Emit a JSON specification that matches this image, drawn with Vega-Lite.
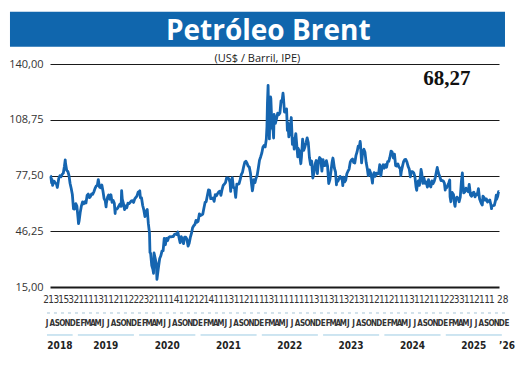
{
  "$schema": "https://vega.github.io/schema/vega-lite/v6.json",
  "width": 449,
  "height": 223,
  "autosize": {"type": "none"},
  "padding": {"left": 50, "top": 64, "right": 21, "bottom": 84},
  "background": "white",
  "config": {"view": {"stroke": null}, "font": "Open Sans"},
  "datasets": {
    "textos": [
      {"k": "titulo", "t": "Petróleo Brent"},
      {"k": "sub", "t": "(US$ / Barril, IPE)"},
      {"k": "ult", "t": "68,27"}
    ],
    "brent": [
      {"d":"2018-07-02","v":77.3},{"d":"2018-07-06","v":77.1},{"d":"2018-07-11","v":73.4},{"d":"2018-07-13","v":75.3},{"d":"2018-07-17","v":72.0},{"d":"2018-07-20","v":73.1},{"d":"2018-07-27","v":74.3},
      {"d":"2018-08-03","v":73.2},{"d":"2018-08-10","v":72.8},{"d":"2018-08-15","v":70.8},{"d":"2018-08-17","v":71.8},{"d":"2018-08-24","v":75.8},{"d":"2018-08-31","v":77.4},
      {"d":"2018-09-07","v":76.8},{"d":"2018-09-14","v":78.1},{"d":"2018-09-21","v":78.8},{"d":"2018-09-28","v":82.7},{"d":"2018-10-03","v":86.3},{"d":"2018-10-05","v":84.2},
      {"d":"2018-10-12","v":80.4},{"d":"2018-10-19","v":79.8},{"d":"2018-10-26","v":77.6},{"d":"2018-11-02","v":73.0},{"d":"2018-11-09","v":70.2},{"d":"2018-11-16","v":66.8},
      {"d":"2018-11-23","v":58.8},{"d":"2018-11-30","v":58.7},{"d":"2018-12-07","v":61.7},{"d":"2018-12-14","v":60.3},{"d":"2018-12-21","v":53.8},{"d":"2018-12-24","v":50.5},{"d":"2018-12-28","v":52.2},
      {"d":"2019-01-04","v":57.1},{"d":"2019-01-11","v":60.5},{"d":"2019-01-18","v":62.7},{"d":"2019-01-25","v":61.6},{"d":"2019-02-01","v":62.8},{"d":"2019-02-08","v":62.1},
      {"d":"2019-02-15","v":66.3},{"d":"2019-02-22","v":67.1},{"d":"2019-03-01","v":65.1},{"d":"2019-03-08","v":65.7},{"d":"2019-03-15","v":67.2},{"d":"2019-03-22","v":67.0},
      {"d":"2019-03-29","v":68.4},{"d":"2019-04-05","v":70.3},{"d":"2019-04-12","v":71.6},{"d":"2019-04-19","v":71.9},{"d":"2019-04-25","v":75.2},{"d":"2019-05-03","v":70.9},
      {"d":"2019-05-10","v":70.6},{"d":"2019-05-17","v":72.2},{"d":"2019-05-24","v":68.7},{"d":"2019-05-31","v":64.5},{"d":"2019-06-07","v":63.3},{"d":"2019-06-12","v":59.9},
      {"d":"2019-06-14","v":62.0},{"d":"2019-06-21","v":65.2},{"d":"2019-06-28","v":66.6},{"d":"2019-07-05","v":64.2},{"d":"2019-07-12","v":66.7},{"d":"2019-07-19","v":62.5},
      {"d":"2019-07-26","v":63.5},{"d":"2019-08-02","v":61.9},{"d":"2019-08-07","v":56.2},{"d":"2019-08-09","v":58.5},{"d":"2019-08-16","v":58.6},{"d":"2019-08-23","v":59.3},
      {"d":"2019-08-30","v":60.4},{"d":"2019-09-06","v":61.5},{"d":"2019-09-13","v":60.2},{"d":"2019-09-16","v":69.0},{"d":"2019-09-20","v":64.3},{"d":"2019-09-27","v":61.9},
      {"d":"2019-10-04","v":58.4},{"d":"2019-10-11","v":60.5},{"d":"2019-10-18","v":59.4},{"d":"2019-10-25","v":62.0},{"d":"2019-11-01","v":61.7},{"d":"2019-11-08","v":62.5},
      {"d":"2019-11-15","v":63.3},{"d":"2019-11-22","v":63.4},{"d":"2019-11-29","v":62.4},{"d":"2019-12-06","v":64.4},{"d":"2019-12-13","v":65.2},{"d":"2019-12-20","v":66.1},{"d":"2019-12-27","v":68.2},
      {"d":"2020-01-03","v":68.6},{"d":"2020-01-06","v":68.9},{"d":"2020-01-10","v":65.0},{"d":"2020-01-17","v":64.9},{"d":"2020-01-24","v":60.7},{"d":"2020-01-31","v":58.2},
      {"d":"2020-02-07","v":54.5},{"d":"2020-02-14","v":57.3},{"d":"2020-02-21","v":58.5},{"d":"2020-02-28","v":50.5},{"d":"2020-03-06","v":45.3},{"d":"2020-03-09","v":34.4},
      {"d":"2020-03-13","v":33.9},{"d":"2020-03-20","v":27.0},{"d":"2020-03-27","v":24.9},{"d":"2020-03-31","v":22.7},{"d":"2020-04-03","v":34.1},{"d":"2020-04-09","v":31.5},
      {"d":"2020-04-17","v":28.1},{"d":"2020-04-21","v":19.3},{"d":"2020-04-24","v":21.4},{"d":"2020-05-01","v":26.4},{"d":"2020-05-08","v":31.0},{"d":"2020-05-15","v":32.5},
      {"d":"2020-05-22","v":35.1},{"d":"2020-05-29","v":35.3},{"d":"2020-06-05","v":42.3},{"d":"2020-06-12","v":38.7},{"d":"2020-06-19","v":42.2},{"d":"2020-06-26","v":41.0},
      {"d":"2020-07-03","v":42.8},{"d":"2020-07-10","v":43.2},{"d":"2020-07-17","v":43.1},{"d":"2020-07-24","v":43.3},{"d":"2020-07-31","v":43.3},{"d":"2020-08-07","v":44.4},
      {"d":"2020-08-14","v":44.8},{"d":"2020-08-21","v":44.4},{"d":"2020-08-28","v":45.8},{"d":"2020-09-04","v":42.7},{"d":"2020-09-11","v":39.8},{"d":"2020-09-18","v":43.2},
      {"d":"2020-09-25","v":41.9},{"d":"2020-10-02","v":39.3},{"d":"2020-10-09","v":42.9},{"d":"2020-10-16","v":42.9},{"d":"2020-10-23","v":41.8},{"d":"2020-10-30","v":37.9},
      {"d":"2020-11-06","v":39.5},{"d":"2020-11-13","v":42.8},{"d":"2020-11-20","v":45.0},{"d":"2020-11-27","v":48.2},{"d":"2020-12-04","v":49.3},{"d":"2020-12-11","v":50.0},
      {"d":"2020-12-18","v":52.3},{"d":"2020-12-24","v":51.3},{"d":"2020-12-31","v":51.8},
      {"d":"2021-01-08","v":56.0},{"d":"2021-01-15","v":55.1},{"d":"2021-01-22","v":55.4},{"d":"2021-01-29","v":55.9},{"d":"2021-02-05","v":59.3},{"d":"2021-02-12","v":62.4},
      {"d":"2021-02-19","v":62.9},{"d":"2021-02-26","v":66.1},{"d":"2021-03-05","v":69.4},{"d":"2021-03-12","v":69.2},{"d":"2021-03-19","v":64.5},{"d":"2021-03-26","v":64.6},
      {"d":"2021-04-02","v":64.9},{"d":"2021-04-09","v":63.0},{"d":"2021-04-16","v":66.8},{"d":"2021-04-23","v":66.1},{"d":"2021-04-30","v":67.3},{"d":"2021-05-07","v":68.3},
      {"d":"2021-05-14","v":68.7},{"d":"2021-05-21","v":66.4},{"d":"2021-05-28","v":69.6},{"d":"2021-06-04","v":71.9},{"d":"2021-06-11","v":72.7},{"d":"2021-06-18","v":73.5},
      {"d":"2021-06-25","v":76.2},{"d":"2021-07-02","v":76.2},{"d":"2021-07-09","v":75.6},{"d":"2021-07-16","v":73.6},{"d":"2021-07-20","v":68.6},{"d":"2021-07-23","v":74.1},
      {"d":"2021-07-30","v":76.3},{"d":"2021-08-06","v":70.7},{"d":"2021-08-13","v":70.6},{"d":"2021-08-20","v":65.2},{"d":"2021-08-27","v":72.7},{"d":"2021-09-03","v":72.6},
      {"d":"2021-09-10","v":72.9},{"d":"2021-09-17","v":75.3},{"d":"2021-09-24","v":78.1},{"d":"2021-10-01","v":79.3},{"d":"2021-10-08","v":82.4},{"d":"2021-10-15","v":84.9},
      {"d":"2021-10-22","v":85.5},{"d":"2021-10-29","v":84.4},{"d":"2021-11-05","v":82.7},{"d":"2021-11-12","v":82.2},{"d":"2021-11-19","v":78.9},{"d":"2021-11-26","v":72.7},
      {"d":"2021-12-01","v":68.9},{"d":"2021-12-03","v":69.9},{"d":"2021-12-10","v":75.2},{"d":"2021-12-17","v":73.5},{"d":"2021-12-24","v":76.1},{"d":"2021-12-31","v":77.8},
      {"d":"2022-01-07","v":81.8},{"d":"2022-01-14","v":86.1},{"d":"2022-01-21","v":87.9},{"d":"2022-01-28","v":90.0},{"d":"2022-02-04","v":93.3},{"d":"2022-02-11","v":94.4},
      {"d":"2022-02-18","v":93.5},{"d":"2022-02-25","v":97.9},{"d":"2022-03-01","v":105.0},{"d":"2022-03-04","v":118.1},{"d":"2022-03-08","v":128.0},{"d":"2022-03-11","v":112.7},
      {"d":"2022-03-16","v":98.0},{"d":"2022-03-18","v":107.9},{"d":"2022-03-23","v":121.6},{"d":"2022-03-25","v":120.7},{"d":"2022-04-01","v":104.4},{"d":"2022-04-08","v":102.8},
      {"d":"2022-04-11","v":98.5},{"d":"2022-04-14","v":111.7},{"d":"2022-04-22","v":106.7},{"d":"2022-04-29","v":109.3},{"d":"2022-05-06","v":112.4},{"d":"2022-05-13","v":111.6},
      {"d":"2022-05-20","v":112.6},{"d":"2022-05-27","v":119.4},{"d":"2022-06-03","v":119.7},{"d":"2022-06-08","v":123.6},{"d":"2022-06-10","v":122.0},{"d":"2022-06-17","v":113.1},
      {"d":"2022-06-24","v":113.1},{"d":"2022-06-30","v":114.8},{"d":"2022-07-05","v":102.8},{"d":"2022-07-08","v":107.0},{"d":"2022-07-14","v":99.1},{"d":"2022-07-22","v":103.2},
      {"d":"2022-07-29","v":110.0},{"d":"2022-08-05","v":94.9},{"d":"2022-08-12","v":98.2},{"d":"2022-08-16","v":92.3},{"d":"2022-08-19","v":96.7},{"d":"2022-08-26","v":101.0},
      {"d":"2022-08-31","v":95.6},{"d":"2022-09-07","v":88.0},{"d":"2022-09-09","v":92.8},{"d":"2022-09-16","v":91.4},{"d":"2022-09-23","v":86.2},{"d":"2022-09-26","v":84.1},
      {"d":"2022-09-30","v":88.0},{"d":"2022-10-07","v":97.9},{"d":"2022-10-14","v":91.6},{"d":"2022-10-21","v":93.5},{"d":"2022-10-28","v":95.8},{"d":"2022-11-04","v":98.6},
      {"d":"2022-11-11","v":96.0},{"d":"2022-11-18","v":87.6},{"d":"2022-11-25","v":83.6},{"d":"2022-12-02","v":85.6},{"d":"2022-12-09","v":76.1},{"d":"2022-12-16","v":79.0},
      {"d":"2022-12-23","v":83.9},{"d":"2022-12-30","v":85.9},
      {"d":"2023-01-06","v":78.6},{"d":"2023-01-13","v":85.3},{"d":"2023-01-20","v":87.6},{"d":"2023-01-27","v":86.7},{"d":"2023-02-03","v":79.9},{"d":"2023-02-10","v":86.4},
      {"d":"2023-02-17","v":83.0},{"d":"2023-02-24","v":83.2},{"d":"2023-03-03","v":85.8},{"d":"2023-03-10","v":82.8},{"d":"2023-03-17","v":73.0},{"d":"2023-03-20","v":73.8},
      {"d":"2023-03-24","v":75.0},{"d":"2023-03-31","v":79.8},{"d":"2023-04-07","v":85.1},{"d":"2023-04-12","v":87.3},{"d":"2023-04-14","v":86.3},{"d":"2023-04-21","v":81.7},
      {"d":"2023-04-28","v":79.5},{"d":"2023-05-04","v":72.3},{"d":"2023-05-05","v":75.3},{"d":"2023-05-12","v":74.2},{"d":"2023-05-19","v":75.6},{"d":"2023-05-26","v":77.0},
      {"d":"2023-06-02","v":76.1},{"d":"2023-06-09","v":74.8},{"d":"2023-06-12","v":71.8},{"d":"2023-06-16","v":76.6},{"d":"2023-06-23","v":73.9},{"d":"2023-06-30","v":74.9},
      {"d":"2023-07-07","v":78.5},{"d":"2023-07-14","v":79.9},{"d":"2023-07-21","v":81.1},{"d":"2023-07-28","v":85.0},{"d":"2023-08-04","v":86.2},{"d":"2023-08-11","v":86.8},
      {"d":"2023-08-18","v":84.8},{"d":"2023-08-25","v":84.5},{"d":"2023-09-01","v":88.6},{"d":"2023-09-08","v":90.7},{"d":"2023-09-15","v":93.9},{"d":"2023-09-22","v":93.3},
      {"d":"2023-09-27","v":96.6},{"d":"2023-09-29","v":95.3},{"d":"2023-10-06","v":84.6},{"d":"2023-10-13","v":90.9},{"d":"2023-10-20","v":92.2},{"d":"2023-10-27","v":90.5},
      {"d":"2023-11-03","v":84.9},{"d":"2023-11-10","v":81.4},{"d":"2023-11-16","v":77.4},{"d":"2023-11-17","v":80.6},{"d":"2023-11-24","v":80.6},{"d":"2023-12-01","v":78.9},
      {"d":"2023-12-08","v":75.8},{"d":"2023-12-12","v":73.2},{"d":"2023-12-15","v":76.6},{"d":"2023-12-22","v":79.1},{"d":"2023-12-29","v":77.0},
      {"d":"2024-01-05","v":78.8},{"d":"2024-01-12","v":78.3},{"d":"2024-01-19","v":78.6},{"d":"2024-01-26","v":83.6},{"d":"2024-02-02","v":77.3},{"d":"2024-02-09","v":82.2},
      {"d":"2024-02-16","v":83.5},{"d":"2024-02-23","v":81.6},{"d":"2024-03-01","v":83.6},{"d":"2024-03-08","v":82.1},{"d":"2024-03-15","v":85.3},{"d":"2024-03-22","v":85.4},
      {"d":"2024-03-28","v":87.5},{"d":"2024-04-05","v":91.2},{"d":"2024-04-12","v":90.5},{"d":"2024-04-19","v":87.3},{"d":"2024-04-26","v":89.5},{"d":"2024-05-03","v":83.0},
      {"d":"2024-05-10","v":82.8},{"d":"2024-05-17","v":84.0},{"d":"2024-05-24","v":82.1},{"d":"2024-05-31","v":81.6},{"d":"2024-06-04","v":77.5},{"d":"2024-06-07","v":79.6},
      {"d":"2024-06-14","v":82.6},{"d":"2024-06-21","v":85.2},{"d":"2024-06-28","v":86.4},{"d":"2024-07-05","v":86.5},{"d":"2024-07-12","v":85.0},{"d":"2024-07-19","v":82.6},
      {"d":"2024-07-26","v":81.1},{"d":"2024-08-02","v":76.8},{"d":"2024-08-09","v":79.7},{"d":"2024-08-16","v":79.7},{"d":"2024-08-23","v":79.0},{"d":"2024-08-30","v":76.9},
      {"d":"2024-09-06","v":71.1},{"d":"2024-09-10","v":69.2},{"d":"2024-09-13","v":71.6},{"d":"2024-09-20","v":74.5},{"d":"2024-09-27","v":72.0},{"d":"2024-10-04","v":78.1},
      {"d":"2024-10-07","v":80.9},{"d":"2024-10-11","v":79.0},{"d":"2024-10-18","v":73.1},{"d":"2024-10-25","v":76.1},{"d":"2024-11-01","v":73.1},{"d":"2024-11-08","v":73.9},
      {"d":"2024-11-15","v":71.0},{"d":"2024-11-22","v":75.2},{"d":"2024-11-29","v":71.8},{"d":"2024-12-06","v":71.1},{"d":"2024-12-13","v":74.5},{"d":"2024-12-20","v":72.9},{"d":"2024-12-27","v":74.2},
      {"d":"2025-01-03","v":76.5},{"d":"2025-01-10","v":79.8},{"d":"2025-01-15","v":82.0},{"d":"2025-01-17","v":80.8},{"d":"2025-01-24","v":78.5},{"d":"2025-01-31","v":76.8},
      {"d":"2025-02-07","v":74.7},{"d":"2025-02-14","v":74.7},{"d":"2025-02-21","v":74.4},{"d":"2025-02-28","v":73.2},{"d":"2025-03-05","v":69.3},{"d":"2025-03-07","v":70.4},
      {"d":"2025-03-14","v":70.6},{"d":"2025-03-21","v":72.2},{"d":"2025-03-28","v":73.6},{"d":"2025-04-02","v":75.0},{"d":"2025-04-04","v":65.6},{"d":"2025-04-09","v":62.8},
      {"d":"2025-04-11","v":64.8},{"d":"2025-04-17","v":68.0},{"d":"2025-04-25","v":66.9},{"d":"2025-05-02","v":61.3},{"d":"2025-05-05","v":60.2},{"d":"2025-05-09","v":63.9},
      {"d":"2025-05-16","v":65.4},{"d":"2025-05-23","v":64.8},{"d":"2025-05-30","v":62.8},{"d":"2025-06-06","v":65.3},{"d":"2025-06-13","v":74.2},{"d":"2025-06-19","v":78.9},
      {"d":"2025-06-23","v":71.5},{"d":"2025-06-27","v":67.8},{"d":"2025-07-04","v":68.3},{"d":"2025-07-11","v":70.4},{"d":"2025-07-18","v":69.3},{"d":"2025-07-25","v":68.4},
      {"d":"2025-07-31","v":72.5},{"d":"2025-08-08","v":66.6},{"d":"2025-08-15","v":65.9},{"d":"2025-08-22","v":67.7},{"d":"2025-08-29","v":68.1},{"d":"2025-09-05","v":65.5},
      {"d":"2025-09-12","v":67.0},{"d":"2025-09-19","v":66.7},{"d":"2025-09-26","v":70.1},{"d":"2025-10-03","v":64.5},{"d":"2025-10-10","v":62.7},{"d":"2025-10-17","v":61.3},
      {"d":"2025-10-20","v":61.0},{"d":"2025-10-24","v":65.9},{"d":"2025-10-31","v":65.1},{"d":"2025-11-07","v":63.6},{"d":"2025-11-14","v":64.4},{"d":"2025-11-21","v":62.6},
      {"d":"2025-11-28","v":63.2},{"d":"2025-12-05","v":63.8},{"d":"2025-12-12","v":61.1},{"d":"2025-12-16","v":58.9},{"d":"2025-12-19","v":60.5},{"d":"2025-12-26","v":60.6},
      {"d":"2025-12-31","v":60.9},{"d":"2026-01-02","v":60.8},{"d":"2026-01-09","v":63.3},{"d":"2026-01-14","v":66.5},{"d":"2026-01-16","v":64.1},{"d":"2026-01-23","v":65.9},
      {"d":"2026-01-28","v":68.4},{"d":"2026-01-30","v":68.27}
    ],
    "meses": [
      {"d":"2018-07-15","l":"J","n":"2","a":"2018"},{"d":"2018-08-15","l":"A","n":"1","a":"2018"},{"d":"2018-09-15","l":"S","n":"3","a":"2018"},
      {"d":"2018-10-15","l":"O","n":"1","a":"2018"},{"d":"2018-11-15","l":"N","n":"5","a":"2018"},{"d":"2018-12-15","l":"D","n":"3","a":"2018"},
      {"d":"2019-01-15","l":"E","n":"2","a":"2019"},{"d":"2019-02-15","l":"F","n":"1","a":"2019"},{"d":"2019-03-15","l":"M","n":"1","a":"2019"},
      {"d":"2019-04-15","l":"A","n":"1","a":"2019"},{"d":"2019-05-15","l":"M","n":"1","a":"2019"},{"d":"2019-06-15","l":"J","n":"3","a":"2019"},
      {"d":"2019-07-15","l":"J","n":"1","a":"2019"},{"d":"2019-08-15","l":"A","n":"1","a":"2019"},{"d":"2019-09-15","l":"S","n":"2","a":"2019"},
      {"d":"2019-10-15","l":"O","n":"1","a":"2019"},{"d":"2019-11-15","l":"N","n":"1","a":"2019"},{"d":"2019-12-15","l":"D","n":"2","a":"2019"},
      {"d":"2020-01-15","l":"E","n":"2","a":"2020"},{"d":"2020-02-15","l":"F","n":"2","a":"2020"},{"d":"2020-03-15","l":"M","n":"3","a":"2020"},
      {"d":"2020-04-15","l":"A","n":"2","a":"2020"},{"d":"2020-05-15","l":"M","n":"1","a":"2020"},{"d":"2020-06-15","l":"J","n":"1","a":"2020"},
      {"d":"2020-07-15","l":"J","n":"1","a":"2020"},{"d":"2020-08-15","l":"A","n":"1","a":"2020"},{"d":"2020-09-15","l":"S","n":"4","a":"2020"},
      {"d":"2020-10-15","l":"O","n":"1","a":"2020"},{"d":"2020-11-15","l":"N","n":"1","a":"2020"},{"d":"2020-12-15","l":"D","n":"2","a":"2020"},
      {"d":"2021-01-15","l":"E","n":"1","a":"2021"},{"d":"2021-02-15","l":"F","n":"2","a":"2021"},{"d":"2021-03-15","l":"M","n":"1","a":"2021"},
      {"d":"2021-04-15","l":"A","n":"4","a":"2021"},{"d":"2021-05-15","l":"M","n":"1","a":"2021"},{"d":"2021-06-15","l":"J","n":"1","a":"2021"},
      {"d":"2021-07-15","l":"J","n":"1","a":"2021"},{"d":"2021-08-15","l":"A","n":"3","a":"2021"},{"d":"2021-09-15","l":"S","n":"1","a":"2021"},
      {"d":"2021-10-15","l":"O","n":"1","a":"2021"},{"d":"2021-11-15","l":"N","n":"2","a":"2021"},{"d":"2021-12-15","l":"D","n":"1","a":"2021"},
      {"d":"2022-01-15","l":"E","n":"1","a":"2022"},{"d":"2022-02-15","l":"F","n":"1","a":"2022"},{"d":"2022-03-15","l":"M","n":"1","a":"2022"},
      {"d":"2022-04-15","l":"A","n":"3","a":"2022"},{"d":"2022-05-15","l":"M","n":"1","a":"2022"},{"d":"2022-06-15","l":"J","n":"1","a":"2022"},
      {"d":"2022-07-15","l":"J","n":"1","a":"2022"},{"d":"2022-08-15","l":"A","n":"1","a":"2022"},{"d":"2022-09-15","l":"S","n":"1","a":"2022"},
      {"d":"2022-10-15","l":"O","n":"1","a":"2022"},{"d":"2022-11-15","l":"N","n":"1","a":"2022"},{"d":"2022-12-15","l":"D","n":"1","a":"2022"},
      {"d":"2023-01-15","l":"E","n":"3","a":"2023"},{"d":"2023-02-15","l":"F","n":"1","a":"2023"},{"d":"2023-03-15","l":"M","n":"1","a":"2023"},
      {"d":"2023-04-15","l":"A","n":"3","a":"2023"},{"d":"2023-05-15","l":"M","n":"1","a":"2023"},{"d":"2023-06-15","l":"J","n":"1","a":"2023"},
      {"d":"2023-07-15","l":"J","n":"3","a":"2023"},{"d":"2023-08-15","l":"A","n":"2","a":"2023"},{"d":"2023-09-15","l":"S","n":"1","a":"2023"},
      {"d":"2023-10-15","l":"O","n":"3","a":"2023"},{"d":"2023-11-15","l":"N","n":"1","a":"2023"},{"d":"2023-12-15","l":"D","n":"1","a":"2023"},
      {"d":"2024-01-15","l":"E","n":"2","a":"2024"},{"d":"2024-02-15","l":"F","n":"1","a":"2024"},{"d":"2024-03-15","l":"M","n":"1","a":"2024"},
      {"d":"2024-04-15","l":"A","n":"2","a":"2024"},{"d":"2024-05-15","l":"M","n":"1","a":"2024"},{"d":"2024-06-15","l":"J","n":"1","a":"2024"},
      {"d":"2024-07-15","l":"J","n":"1","a":"2024"},{"d":"2024-08-15","l":"A","n":"3","a":"2024"},{"d":"2024-09-15","l":"S","n":"1","a":"2024"},
      {"d":"2024-10-15","l":"O","n":"1","a":"2024"},{"d":"2024-11-15","l":"N","n":"2","a":"2024"},{"d":"2024-12-15","l":"D","n":"1","a":"2024"},
      {"d":"2025-01-15","l":"E","n":"1","a":"2025"},{"d":"2025-02-15","l":"F","n":"1","a":"2025"},{"d":"2025-03-15","l":"M","n":"2","a":"2025"},
      {"d":"2025-04-15","l":"A","n":"2","a":"2025"},{"d":"2025-05-15","l":"M","n":"3","a":"2025"},{"d":"2025-06-15","l":"J","n":"3","a":"2025"},
      {"d":"2025-07-15","l":"J","n":"1","a":"2025"},{"d":"2025-08-15","l":"A","n":"1","a":"2025"},{"d":"2025-09-15","l":"S","n":"2","a":"2025"},
      {"d":"2025-10-15","l":"O","n":"1","a":"2025"},{"d":"2025-11-15","l":"N","n":"1","a":"2025"},{"d":"2025-12-15","l":"D","n":"1","a":"2025"},
      {"d":"2026-01-15","l":"E","n":"28","a":"’26"}
    ]
  },
  "layer": [
    {
      "layer": [
        {
          "data": {"name": "textos"},
          "transform": [{"filter": "datum.k === 'titulo'"}],
          "mark": {"type": "rect", "color": "#1066ad"},
          "encoding": {
            "x": {"datum": {"year": 2017, "month": 10, "date": 27}, "type": "temporal", "scale": {"domain": [{"year": 2018, "month": 7, "date": 1}, {"year": 2026, "month": 1, "date": 31}]}, "axis": null},
            "x2": {"datum": {"year": 2026, "month": 3, "date": 9}},
            "y": {"datum": 169.3, "type": "quantitative", "scale": {"domain": [15, 140], "nice": false, "zero": false}},
            "y2": {"datum": 149.7}
          }
        },
        {
          "data": {"name": "textos"},
          "transform": [{"filter": "datum.k === 'titulo'"}],
          "mark": {"type": "text", "font": "Open Sans", "fontWeight": "bold", "fontSize": 28, "color": "white", "align": "center", "baseline": "alphabetic"},
          "encoding": {
            "x": {"datum": {"year": 2022, "month": 3, "date": 9}, "type": "temporal", "scale": {"domain": [{"year": 2018, "month": 7, "date": 1}, {"year": 2026, "month": 1, "date": 31}]}, "axis": null},
            "y": {"datum": 153.45, "type": "quantitative", "scale": {"domain": [15, 140], "nice": false, "zero": false}},
            "text": {"field": "t"}
          }
        },
        {
          "data": {"name": "textos"},
          "transform": [{"filter": "datum.k === 'sub'"}],
          "mark": {"type": "text", "font": "Open Sans", "fontSize": 11, "color": "#222", "align": "center", "baseline": "alphabetic"},
          "encoding": {
            "x": {"datum": {"year": 2022, "month": 1, "date": 1}, "type": "temporal", "scale": {"domain": [{"year": 2018, "month": 7, "date": 1}, {"year": 2026, "month": 1, "date": 31}]}, "axis": null},
            "y": {"datum": 141.3, "type": "quantitative", "scale": {"domain": [15, 140], "nice": false, "zero": false}},
            "text": {"field": "t"}
          }
        },
        {
          "data": {"name": "textos"},
          "transform": [{"filter": "datum.k === 'ult'"}],
          "mark": {"type": "text", "font": "Liberation Serif", "fontWeight": "bold", "fontSize": 21, "color": "#111", "align": "center", "baseline": "alphabetic"},
          "encoding": {
            "x": {"datum": {"year": 2025, "month": 3, "date": 16}, "type": "temporal", "scale": {"domain": [{"year": 2018, "month": 7, "date": 1}, {"year": 2026, "month": 1, "date": 31}]}, "axis": null},
            "y": {"datum": 128.2, "type": "quantitative", "scale": {"domain": [15, 140], "nice": false, "zero": false}},
            "text": {"field": "t"}
          }
        },
        {
          "data": {"name": "brent"},
          "mark": {"type": "line", "color": "#1565b0", "strokeWidth": 2.8, "strokeJoin": "round"},
          "encoding": {
            "x": {"field": "d", "type": "temporal", "scale": {"domain": [{"year": 2018, "month": 7, "date": 1}, {"year": 2026, "month": 1, "date": 31}]}, "axis": null},
            "y": {
              "field": "v", "type": "quantitative",
              "scale": {"domain": [15, 140], "nice": false, "zero": false},
              "axis": {
                "values": [15, 46.25, 77.5, 108.75, 140],
                "labelExpr": "replace(format(datum.value, '.2f'), '.', ',')",
                "title": null, "domain": false, "ticks": false, "labelPadding": 7,
                "labelFont": "Open Sans", "labelFontSize": 11, "labelColor": "#333",
                "grid": true, "gridColor": "#1a1a1a",
                "gridWidth": {"condition": {"test": "datum.value === 15", "value": 2}, "value": 1}
              }
            }
          }
        }
      ]
    },
    {
      "data": {"name": "meses"},
      "layer": [
        {
          "transform": [{"filter": "datum.n !== '28'"}],
          "mark": {"type": "text", "font": "Liberation Sans Narrow, DejaVu Sans Condensed, sans-serif", "fontSize": 10, "color": "#333", "baseline": "middle", "align": "center"},
          "encoding": {
            "x": {"field": "d", "type": "temporal", "scale": {"domain": [{"year": 2018, "month": 8, "date": 8}, {"year": 2026, "month": 1, "date": 27}]}, "axis": null},
            "y": {"datum": 7.7, "type": "quantitative", "scale": {"domain": [15, 140], "nice": false, "zero": false}},
            "text": {"field": "n"}
          }
        },
        {
          "transform": [{"filter": "datum.n === '28'"}],
          "mark": {"type": "text", "font": "Liberation Sans Narrow, DejaVu Sans Condensed, sans-serif", "fontSize": 10, "color": "#333", "baseline": "middle", "align": "left"},
          "encoding": {
            "x": {"field": "d", "type": "temporal", "scale": {"domain": [{"year": 2018, "month": 8, "date": 8}, {"year": 2026, "month": 1, "date": 27}]}, "axis": null},
            "y": {"datum": 7.7, "type": "quantitative", "scale": {"domain": [15, 140], "nice": false, "zero": false}},
            "text": {"field": "n"}
          }
        }
      ]
    },
    {
      "data": {"name": "meses"},
      "layer": [
        {
          "mark": {"type": "rule", "color": "#a6c4d6", "strokeWidth": 1, "strokeDash": [3, 4]},
          "encoding": {
            "x": {"aggregate": "min", "field": "d", "type": "temporal", "scale": {"domain": [{"year": 2018, "month": 8, "date": 2}, {"year": 2025, "month": 11, "date": 28}]}, "axis": null},
            "x2": {"aggregate": "max", "field": "d"},
            "y": {"datum": 0.43, "type": "quantitative", "scale": {"domain": [15, 140], "nice": false, "zero": false}}
          }
        },
        {
          "mark": {"type": "text", "font": "Liberation Sans Narrow, DejaVu Sans Condensed, sans-serif", "fontWeight": "bold", "fontSize": 8, "color": "#333", "baseline": "middle", "align": "center"},
          "encoding": {
            "x": {"field": "d", "type": "temporal", "scale": {"domain": [{"year": 2018, "month": 8, "date": 2}, {"year": 2025, "month": 11, "date": 28}]}, "axis": null},
            "y": {"datum": -5.74, "type": "quantitative", "scale": {"domain": [15, 140], "nice": false, "zero": false}},
            "text": {"field": "l"}
          }
        },
        {
          "mark": {"type": "rule", "color": "#9ccbe3", "strokeWidth": 1},
          "encoding": {
            "x": {"aggregate": "min", "field": "d", "type": "temporal", "scale": {"domain": [{"year": 2018, "month": 8, "date": 2}, {"year": 2025, "month": 11, "date": 28}]}, "axis": null},
            "x2": {"aggregate": "max", "field": "d"},
            "detail": {"field": "a"},
            "y": {"datum": -11.9, "type": "quantitative", "scale": {"domain": [15, 140], "nice": false, "zero": false}}
          }
        },
        {
          "mark": {"type": "text", "font": "Liberation Sans Narrow, DejaVu Sans Condensed, sans-serif", "fontWeight": "bold", "fontSize": 10, "color": "#222", "baseline": "middle", "align": "center"},
          "encoding": {
            "x": {"aggregate": "mean", "field": "d", "type": "temporal", "scale": {"domain": [{"year": 2018, "month": 8, "date": 2}, {"year": 2025, "month": 11, "date": 28}]}, "axis": null},
            "y": {"datum": -18.1, "type": "quantitative", "scale": {"domain": [15, 140], "nice": false, "zero": false}},
            "text": {"field": "a"}
          }
        }
      ]
    }
  ],
  "resolve": {"scale": {"x": "independent"}}
}
